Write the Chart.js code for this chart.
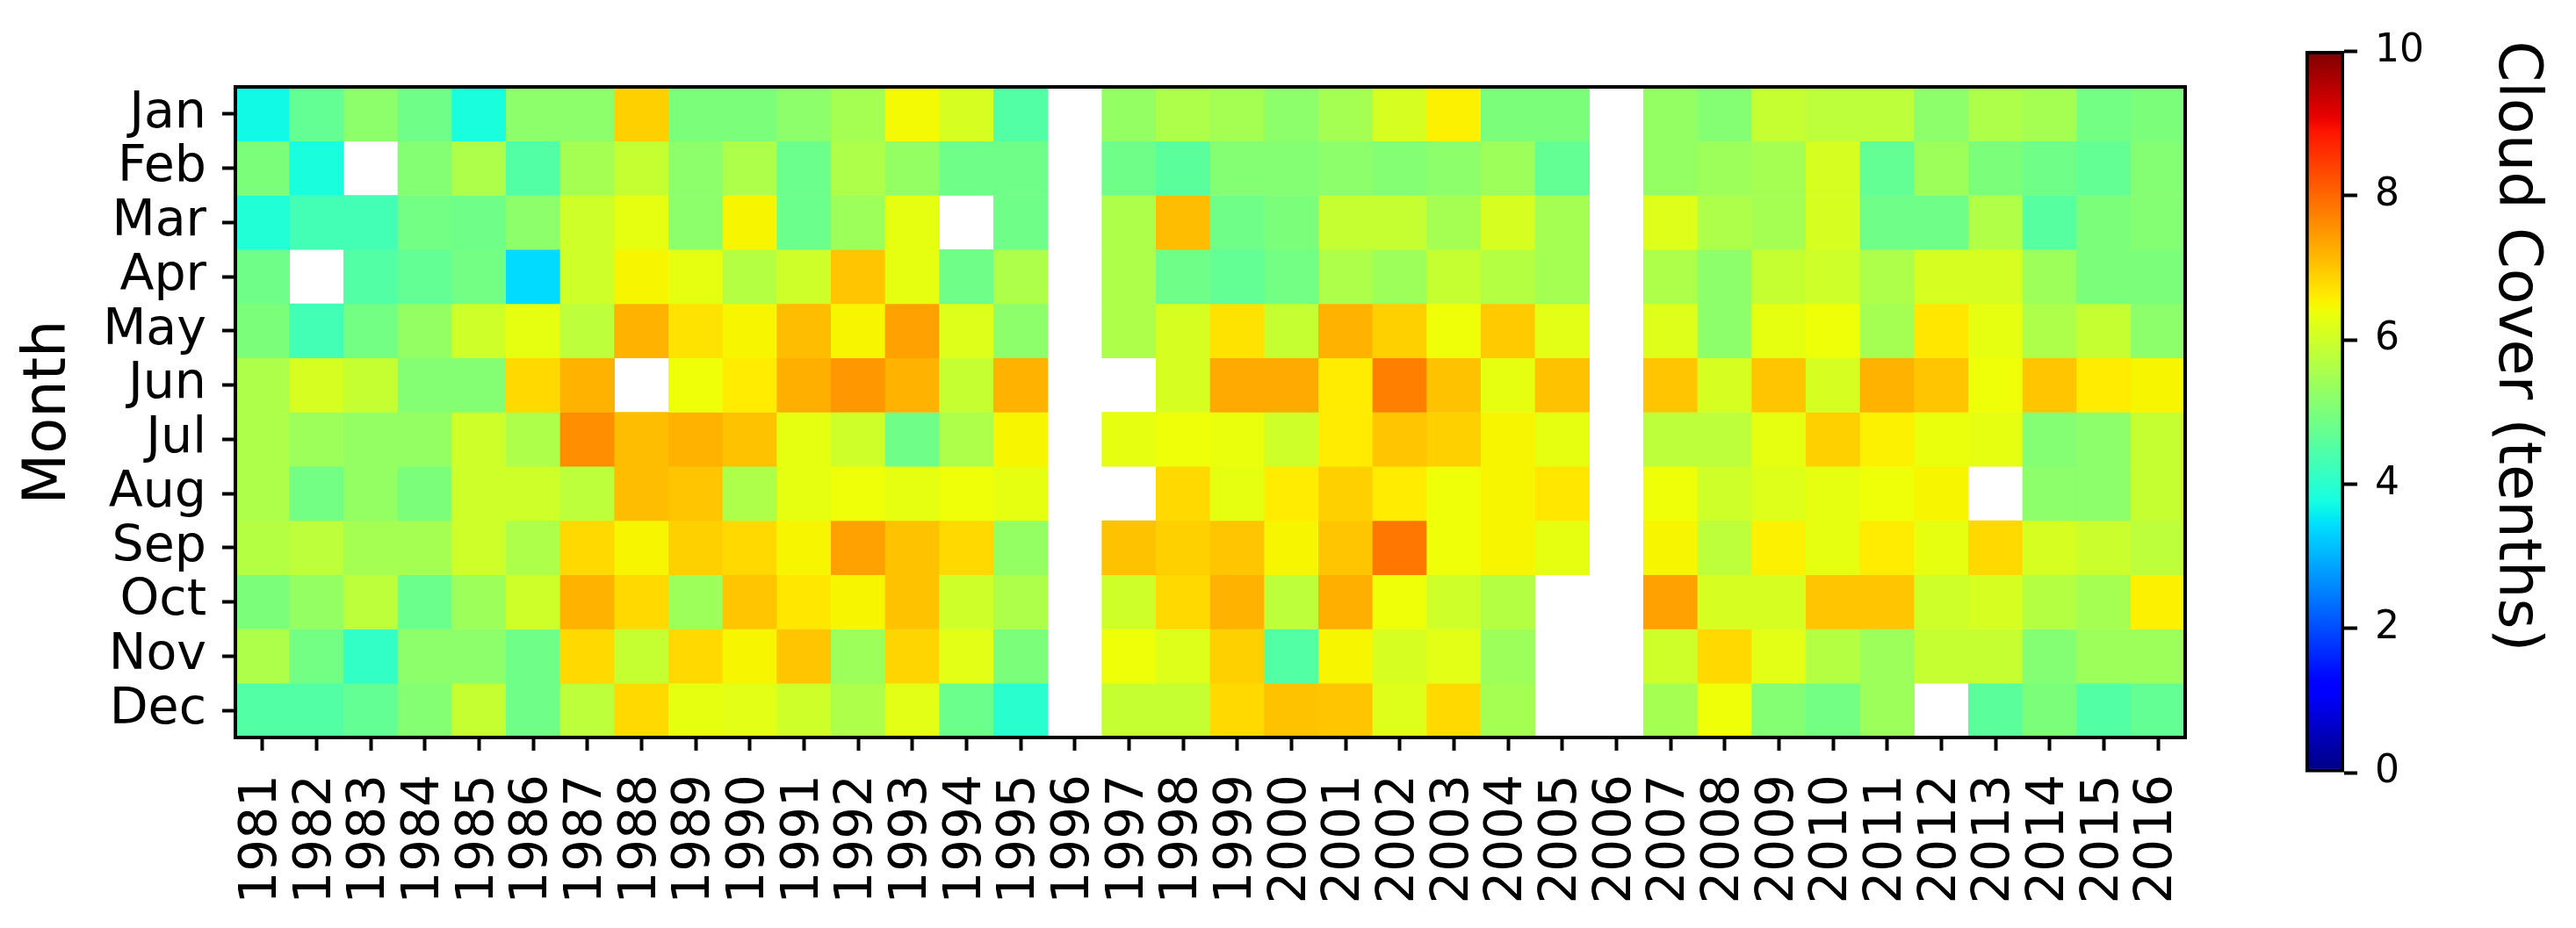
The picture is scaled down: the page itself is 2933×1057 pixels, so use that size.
<!DOCTYPE html>
<html lang="en">
  <head>
    <meta charset="UTF-8" />
    <title>Cloud Cover by Month</title>
    <style>
      body {
        margin: 0;
        background: #fff;
        font-family: "DejaVu Sans", sans-serif;
      }
      .wrap {
        position: relative;
        width: 2933px;
        height: 1057px;
      }
      #heatmap {
        position: absolute;
        left: 0;
        top: 0;
      }
      #colorbar {
        position: absolute;
        left: 2560px;
        top: 0;
      }
    </style>
  </head>
  <body>
    <div class="wrap">
      <canvas id="heatmap" width="2560" height="1057"></canvas>
      <canvas id="colorbar" width="373" height="1057"></canvas>
    </div>
    <script src="https://cdn.jsdelivr.net/npm/chart.js"></script>
    <script>
      const months = ["Jan", "Feb", "Mar", "Apr", "May", "Jun", "Jul", "Aug", "Sep", "Oct", "Nov", "Dec"];
      const years = [];
      for (let y = 1981; y <= 2016; y++) years.push(String(y));

      // monthly mean cloud cover (tenths), 1981..2016, null = no data
      const jan = [3.7, 4.7, 5.2, 4.85, 3.8, 5.2, 5.2, 6.9, 5.0, 5.0, 5.2, 5.5, 6.45, 6.1, 4.5, null, 5.3, 5.6,
        5.5, 5.2, 5.5, 6.1, 6.55, 5.0, 5.0, null, 5.3, 5.1, 5.9, 5.8, 5.8, 5.2, 5.6, 5.5, 4.9, 5.0];
      const feb = [5.0, 3.8, null, 5.1, 5.6, 4.5, 5.5, 5.9, 5.2, 5.6, 4.8, 5.6, 5.3, 4.85, 4.85, null, 4.85, 4.6,
        5.1, 5.1, 5.2, 5.1, 5.2, 5.4, 4.7, null, 5.3, 5.4, 5.5, 6.1, 4.7, 5.4, 5.0, 4.85, 4.7, 5.1];
      const mar = [3.9, 4.3, 4.3, 4.9, 4.85, 5.2, 6.0, 6.3, 5.2, 6.5, 4.8, 5.4, 6.3, null, 4.85, null, 5.6, 7.1,
        4.85, 5.0, 5.9, 5.9, 5.5, 6.1, 5.5, null, 6.2, 5.6, 5.5, 6.1, 4.85, 4.85, 5.65, 4.55, 5.0, 5.1];
      const apr = [4.85, null, 4.5, 4.7, 4.9, 3.4, 6.0, 6.5, 6.3, 5.7, 6.0, 7.0, 6.3, 4.85, 5.6, null, 5.6, 4.85,
        4.7, 4.9, 5.6, 5.4, 5.9, 5.7, 5.5, null, 5.6, 5.2, 5.9, 6.0, 5.6, 6.1, 6.1, 5.4, 5.0, 5.0];
      const may = [5.0, 4.3, 4.9, 5.3, 6.0, 6.3, 5.8, 7.2, 6.7, 6.5, 7.1, 6.5, 7.4, 6.2, 5.2, null, 5.6, 6.1,
        6.7, 5.9, 7.2, 6.9, 6.4, 6.95, 6.25, null, 6.2, 5.2, 6.3, 6.4, 5.5, 6.65, 6.3, 5.6, 5.9, 5.2];
      const jun = [5.6, 6.1, 5.9, 5.1, 5.1, 6.8, 7.2, null, 6.4, 6.6, 7.25, 7.5, 7.2, 5.9, 7.2, null, null, 6.1,
        7.3, 7.3, 6.6, 7.75, 7.05, 6.3, 7.05, null, 7.0, 6.1, 7.0, 6.1, 7.2, 7.0, 6.4, 7.0, 6.6, 6.5];
      const jul = [5.6, 5.4, 5.3, 5.3, 6.0, 5.6, 7.6, 7.1, 7.2, 7.05, 6.3, 6.0, 4.85, 5.6, 6.5, null, 6.3, 6.4,
        6.35, 6.0, 6.6, 7.0, 6.9, 6.5, 6.3, null, 5.8, 5.8, 6.3, 6.9, 6.55, 6.35, 6.3, 5.1, 5.2, 5.9];
      const aug = [5.6, 4.9, 5.3, 5.0, 6.0, 6.0, 5.8, 7.1, 7.0, 5.6, 6.3, 6.4, 6.3, 6.4, 6.3, null, null, 6.8,
        6.3, 6.6, 6.9, 6.6, 6.4, 6.5, 6.65, null, 6.4, 6.0, 6.2, 6.3, 6.4, 6.5, null, 5.2, 5.2, 5.9];
      const sep = [5.7, 5.8, 5.5, 5.5, 6.0, 5.6, 6.8, 6.5, 6.9, 6.8, 6.5, 7.4, 7.05, 6.8, 5.3, null, 7.05, 6.9,
        7.0, 6.5, 7.0, 7.85, 6.4, 6.5, 6.3, null, 6.5, 5.8, 6.55, 6.3, 6.6, 6.3, 6.8, 6.1, 5.95, 5.8];
      const oct = [5.0, 5.3, 5.8, 4.8, 5.4, 6.0, 7.2, 6.8, 5.4, 7.0, 6.65, 6.5, 7.05, 6.0, 5.6, null, 6.0, 6.8,
        7.2, 5.8, 7.25, 6.4, 6.0, 5.7, null, null, 7.4, 6.1, 6.1, 7.0, 7.0, 6.0, 6.1, 5.7, 5.5, 6.55];
      const nov = [5.6, 4.9, 4.1, 5.2, 5.2, 4.85, 6.8, 5.9, 6.8, 6.5, 7.0, 5.4, 6.85, 6.25, 5.0, null, 6.4, 6.2,
        6.9, 4.5, 6.5, 6.1, 6.25, 5.4, null, null, 6.0, 6.8, 6.25, 5.7, 5.4, 5.9, 5.9, 5.1, 5.4, 5.4];
      const dec = [4.5, 4.5, 4.7, 5.1, 5.9, 4.85, 5.8, 6.8, 6.3, 6.25, 6.0, 5.6, 6.25, 4.8, 4.0, null, 5.9, 5.9,
        6.8, 7.05, 7.0, 6.2, 6.8, 5.5, null, null, 5.5, 6.4, 5.1, 4.9, 5.4, null, 4.6, 5.0, 4.5, 4.7];

      const rows = [jan, feb, mar, apr, may, jun, jul, aug, sep, oct, nov, dec];
      const cbTicks = [0, 2, 4, 6, 8, 10];
      const vmin = 0;
      const vmax = 10;

      // matplotlib "jet" segment data
      const jetR = [[0, 0], [0.35, 0], [0.66, 1], [0.89, 1], [1, 0.5]];
      const jetG = [[0, 0], [0.125, 0], [0.375, 1], [0.64, 1], [0.91, 0], [1, 0]];
      const jetB = [[0, 0.5], [0.11, 1], [0.34, 1], [0.65, 0], [1, 0]];

      function interp(pts, t) {
        for (let i = 1; i < pts.length; i++) {
          if (t <= pts[i][0]) {
            const [x0, y0] = pts[i - 1];
            const [x1, y1] = pts[i];
            return y0 + ((y1 - y0) * (t - x0)) / (x1 - x0);
          }
        }
        return pts[pts.length - 1][1];
      }

      function jet(v) {
        const t = Math.min(1, Math.max(0, (v - vmin) / (vmax - vmin)));
        const r = Math.round(interp(jetR, t) * 255);
        const g = Math.round(interp(jetG, t) * 255);
        const b = Math.round(interp(jetB, t) * 255);
        return `rgb(${r}, ${g}, ${b})`;
      }

      Chart.defaults.font.family = "'DejaVu Sans', sans-serif";
      Chart.defaults.color = "#000";

      const framePlugin = {
        id: "frame",
        afterDraw(chart) {
          const a = chart.chartArea;
          const ctx = chart.ctx;
          ctx.save();
          ctx.strokeStyle = "#000";
          ctx.lineWidth = 4;
          ctx.strokeRect(a.left, a.top, a.right - a.left, a.bottom - a.top);
          ctx.restore();
        },
      };

      // one floating-bar dataset per month row
      const datasets = rows.map((vals, m) => ({
        label: months[m],
        data: vals.map((v) => (v == null ? null : [m, m + 1])),
        backgroundColor: vals.map((v) => (v == null ? "rgba(0,0,0,0)" : jet(v))),
        borderWidth: 0,
        grouped: false,
        barPercentage: 1,
        categoryPercentage: 1,
      }));

      new Chart(document.getElementById("heatmap"), {
        type: "bar",
        data: { labels: years, datasets: datasets },
        options: {
          responsive: false,
          animation: false,
          devicePixelRatio: 1,
          layout: { padding: { top: 99, right: 72, left: 0, bottom: 0 } },
          plugins: { legend: { display: false }, tooltip: { enabled: false } },
          scales: {
            x: {
              type: "category",
              offset: true,
              afterFit: (s) => {
                s.height = 217;
              },
              grid: {
                offset: false,
                drawOnChartArea: false,
                drawTicks: true,
                tickLength: 15,
                tickWidth: 4,
                tickColor: "#000",
              },
              border: { display: false },
              ticks: {
                autoSkip: false,
                minRotation: 90,
                maxRotation: 90,
                padding: 27,
                font: { size: 58 },
                color: "#000",
              },
            },
            y: {
              type: "linear",
              min: 0,
              max: 12,
              reverse: true,
              afterFit: (s) => {
                s.width = 268;
              },
              afterBuildTicks: (s) => {
                s.ticks = months.map((_, i) => ({ value: i + 0.5 }));
              },
              grid: {
                drawOnChartArea: false,
                drawTicks: true,
                tickLength: 15,
                tickWidth: 4,
                tickColor: "#000",
              },
              border: { display: false },
              ticks: {
                autoSkip: false,
                padding: 18,
                font: { size: 57 },
                color: "#000",
                callback: (v, i) => months[i],
              },
              title: {
                display: true,
                text: "Month",
                font: { size: 67 },
                color: "#000",
                padding: { top: 16, bottom: 0 },
              },
            },
          },
        },
        plugins: [framePlugin],
      });

      // gradient spans the bar itself (vmin..vmax), not the whole chart area
      function jetGradient(context) {
        const chart = context.chart;
        const y = chart.scales.y;
        if (!chart.chartArea || !y) return "#888";
        const g = chart.ctx.createLinearGradient(0, y.getPixelForValue(vmin), 0, y.getPixelForValue(vmax));
        for (let i = 0; i <= 100; i++) {
          g.addColorStop(i / 100, jet(vmin + ((vmax - vmin) * i) / 100));
        }
        return g;
      }

      new Chart(document.getElementById("colorbar"), {
        type: "bar",
        data: {
          labels: ["scale"],
          datasets: [
            {
              data: [[vmin, vmax]],
              backgroundColor: jetGradient,
              borderColor: "#000",
              borderWidth: 4,
              borderSkipped: false,
              barPercentage: 1,
              categoryPercentage: 1,
            },
          ],
        },
        options: {
          responsive: false,
          animation: false,
          devicePixelRatio: 1,
          layout: { padding: { top: 44, left: 65, right: 0, bottom: 177 } },
          plugins: { legend: { display: false }, tooltip: { enabled: false } },
          scales: {
            x: { display: false },
            y: {
              position: "right",
              min: vmin,
              max: 10.146,
              afterFit: (s) => {
                s.width = 264;
              },
              afterBuildTicks: (s) => {
                s.ticks = cbTicks.map((v) => ({ value: v }));
              },
              grid: {
                drawOnChartArea: false,
                drawTicks: true,
                tickLength: 15,
                tickWidth: 4,
                tickColor: "#000",
              },
              border: { display: false },
              ticks: {
                padding: 20,
                font: { size: 44 },
                color: "#000",
              },
              title: {
                display: true,
                text: "Cloud Cover (tenths)",
                align: "end",
                font: { size: 67 },
                color: "#000",
                padding: { top: 29, bottom: 0 },
              },
            },
          },
        },
      });
    </script>
  </body>
</html>
